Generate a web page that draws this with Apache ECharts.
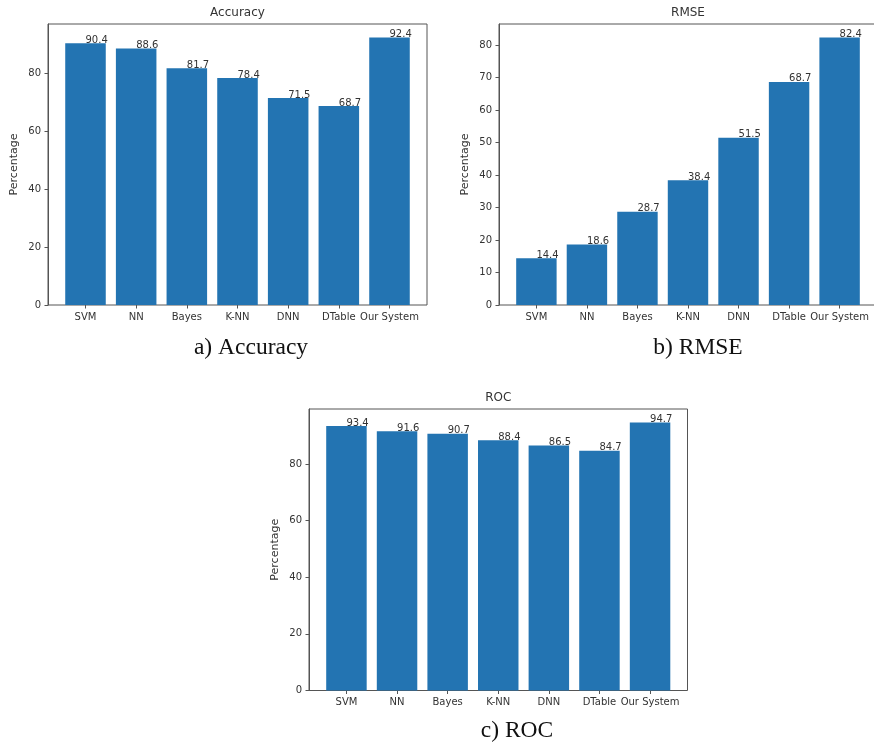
<!DOCTYPE html>
<html>
<head>
<meta charset="utf-8">
<script src="https://cdn.jsdelivr.net/npm/echarts@6/dist/echarts.min.js"></script>
<style>
  html, body { margin: 0; padding: 0; background: #fff; }
  #chart { width: 874px; height: 745px; }
</style>
</head>
<body>
<div id="chart"></div>
<script>
// 数据
const categories = ['SVM', 'NN', 'Bayes', 'K-NN', 'DNN', 'DTable', 'Our System']
const accuracyValues = [90.4, 88.6, 81.7, 78.4, 71.5, 68.7, 92.4]
const rmseValues = [14.4, 18.6, 28.7, 38.4, 51.5, 68.7, 82.4]
const rocValues = [93.4, 91.6, 90.7, 88.4, 86.5, 84.7, 94.7]
const accuracyTicks = [0, 20, 40, 60, 80]
const rmseTicks = [0, 10, 20, 30, 40, 50, 60, 70, 80]
const rocTicks = [0, 20, 40, 60, 80]

const barColor = '#2374b2'
const lineColor = '#555'
const textColor = '#333'
const font = 'DejaVu Sans'

// 三个子图的外框位置
const panels = [
  { title: 'Accuracy', caption: 'a) Accuracy', values: accuracyValues, ticks: accuracyTicks,
    box: { left: 48, top: 24, width: 379, height: 281 }, capX: 251, capY: 348 },
  { title: 'RMSE', caption: 'b) RMSE', values: rmseValues, ticks: rmseTicks,
    box: { left: 499, top: 24, width: 378, height: 281 }, capX: 698, capY: 348 },
  { title: 'ROC', caption: 'c) ROC', values: rocValues, ticks: rocTicks,
    box: { left: 309, top: 409, width: 378.5, height: 281.5 }, capX: 517, capY: 731 }
]

const grid = []
const xAxis = []
const yAxis = []
const series = []
const graphic = []

panels.forEach(function (p, i) {
  const b = p.box
  // matplotlib: xlim = [-0.74, 6.74], bands [-0.5, 6.5]
  const inset = b.width * 0.24 / 7.48
  const yMax = Math.max.apply(null, p.values) * 1.05
  grid.push({
    left: b.left, top: b.top, width: b.width, height: b.height,
    show: true, borderColor: lineColor, borderWidth: 1, backgroundColor: 'transparent',
    outerBoundsMode: 'none'
  })
  grid.push({
    left: b.left + inset, top: b.top, width: b.width - 2 * inset, height: b.height,
    outerBoundsMode: 'none'
  })
  xAxis.push({ type: 'value', gridIndex: 2 * i, show: false, min: 0, max: 1 })
  xAxis.push({
    type: 'category', gridIndex: 2 * i + 1, data: categories,
    axisLine: { show: false },
    axisTick: { show: true, alignWithLabel: true, length: 3.5, lineStyle: { color: lineColor } },
    axisLabel: { interval: 0, margin: 7, color: textColor, fontSize: 10, fontFamily: font },
    splitLine: { show: false }
  })
  yAxis.push({
    type: 'value', gridIndex: 2 * i, min: 0, max: yMax,
    name: 'Percentage', nameLocation: 'middle', nameGap: 28,
    nameTextStyle: { color: textColor, fontSize: 11, fontFamily: font },
    axisLine: { show: true, lineStyle: { color: lineColor } },
    axisTick: { show: true, length: 3.5, lineStyle: { color: lineColor }, customValues: p.ticks },
    axisLabel: { color: textColor, fontSize: 10, fontFamily: font, margin: 7, customValues: p.ticks },
    splitLine: { show: false }
  })
  yAxis.push({ type: 'value', gridIndex: 2 * i + 1, min: 0, max: yMax, show: false })
  series.push({
    type: 'bar', xAxisIndex: 2 * i + 1, yAxisIndex: 2 * i + 1,
    data: p.values,
    barCategoryGap: '20%',
    itemStyle: { color: barColor },
    label: {
      show: true, position: 'top', distance: 0, align: 'left', verticalAlign: 'bottom',
      offset: [0, 2], color: textColor, fontSize: 10, fontFamily: font
    },
    silent: true
  })
  graphic.push({
    type: 'text', x: b.left + b.width / 2, y: b.top - 11,
    style: { text: p.title, fill: textColor, font: '12px "DejaVu Sans"', align: 'center', verticalAlign: 'middle' }
  })
  graphic.push({
    type: 'text', x: p.capX, y: p.capY,
    style: { text: p.caption, fill: '#111', font: '23.5px "Liberation Serif"', align: 'center', verticalAlign: 'middle' }
  })
})

const chart = echarts.init(document.getElementById('chart'))
chart.setOption({
  animation: false,
  backgroundColor: '#fff',
  grid: grid,
  xAxis: xAxis,
  yAxis: yAxis,
  series: series,
  graphic: graphic
})
</script>
</body>
</html>
